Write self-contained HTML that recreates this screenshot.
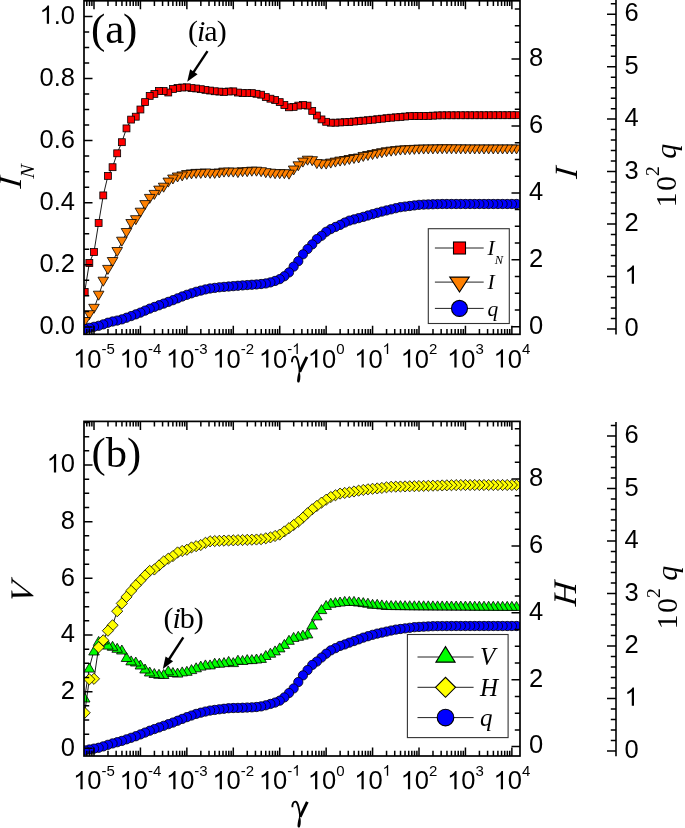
<!DOCTYPE html><html><head><meta charset="utf-8"><style>html,body{margin:0;padding:0;background:#fff;}svg{display:block;will-change:transform;}</style></head><body><svg width="685" height="828" viewBox="0 0 685 828">
<defs>
<clipPath id="ca"><rect x="84.0" y="0.8" width="436.0" height="333.5"/></clipPath>
<clipPath id="cb"><rect x="84.0" y="421.4" width="436.0" height="334.6"/></clipPath>
</defs>
<rect width="685" height="828" fill="#fff"/>
<g clip-path="url(#ca)">
<path d="M84.70,291.90 L89.34,263.00 L93.99,252.00 L98.63,223.00 L103.27,195.40 L107.92,175.90 L112.56,167.20 L117.20,153.30 L121.84,142.20 L126.49,128.40 L131.13,119.60 L135.77,116.70 L140.42,109.50 L145.06,102.10 L149.70,95.90 L154.34,93.90 L158.99,91.00 L163.63,91.00 L168.27,92.50 L172.92,89.00 L177.56,87.90 L182.20,87.50 L186.85,87.30 L191.49,88.10 L196.13,88.47 L200.77,89.17 L205.42,89.86 L210.06,90.56 L214.70,91.26 L219.35,91.60 L223.99,91.93 L228.63,91.48 L233.28,91.33 L237.92,92.55 L242.56,93.10 L247.20,93.10 L251.85,93.10 L256.49,93.80 L261.13,94.70 L265.78,97.10 L270.42,98.70 L275.06,100.00 L279.71,102.10 L284.35,105.00 L288.99,107.30 L293.63,106.90 L298.28,105.60 L302.92,105.00 L307.56,105.60 L312.21,110.90 L316.85,115.50 L321.49,119.40 L326.14,121.80 L330.78,122.70 L335.42,122.70 L340.06,122.45 L344.71,122.19 L349.35,121.94 L353.99,121.52 L358.64,121.08 L363.28,120.64 L367.92,120.20 L372.57,119.72 L377.21,119.21 L381.85,118.70 L386.49,118.19 L391.14,117.70 L395.78,117.31 L400.42,116.91 L405.07,116.52 L409.71,116.12 L414.35,116.05 L419.00,116.00 L423.64,115.95 L428.28,115.89 L432.92,115.65 L437.57,115.42 L442.21,115.30 L446.85,115.29 L451.50,115.29 L456.14,115.28 L460.78,115.27 L465.43,115.27 L470.07,115.26 L474.71,115.26 L479.35,115.25 L484.00,115.25 L488.64,115.24 L493.28,115.23 L497.93,115.23 L502.57,115.22 L507.21,115.22 L511.86,115.21 L516.50,115.20" fill="none" stroke="#000" stroke-width="0.9"/>
<g fill="#ff0000" stroke="#000" stroke-width="0.8">
<rect x="513.05" y="111.75" width="6.9" height="6.9"/>
<rect x="508.41" y="111.76" width="6.9" height="6.9"/>
<rect x="503.76" y="111.77" width="6.9" height="6.9"/>
<rect x="499.12" y="111.77" width="6.9" height="6.9"/>
<rect x="494.48" y="111.78" width="6.9" height="6.9"/>
<rect x="489.83" y="111.78" width="6.9" height="6.9"/>
<rect x="485.19" y="111.79" width="6.9" height="6.9"/>
<rect x="480.55" y="111.80" width="6.9" height="6.9"/>
<rect x="475.90" y="111.80" width="6.9" height="6.9"/>
<rect x="471.26" y="111.81" width="6.9" height="6.9"/>
<rect x="466.62" y="111.81" width="6.9" height="6.9"/>
<rect x="461.98" y="111.82" width="6.9" height="6.9"/>
<rect x="457.33" y="111.82" width="6.9" height="6.9"/>
<rect x="452.69" y="111.83" width="6.9" height="6.9"/>
<rect x="448.05" y="111.84" width="6.9" height="6.9"/>
<rect x="443.40" y="111.84" width="6.9" height="6.9"/>
<rect x="438.76" y="111.85" width="6.9" height="6.9"/>
<rect x="434.12" y="111.97" width="6.9" height="6.9"/>
<rect x="429.47" y="112.20" width="6.9" height="6.9"/>
<rect x="424.83" y="112.44" width="6.9" height="6.9"/>
<rect x="420.19" y="112.50" width="6.9" height="6.9"/>
<rect x="415.55" y="112.55" width="6.9" height="6.9"/>
<rect x="410.90" y="112.60" width="6.9" height="6.9"/>
<rect x="406.26" y="112.67" width="6.9" height="6.9"/>
<rect x="401.62" y="113.07" width="6.9" height="6.9"/>
<rect x="396.97" y="113.46" width="6.9" height="6.9"/>
<rect x="392.33" y="113.86" width="6.9" height="6.9"/>
<rect x="387.69" y="114.25" width="6.9" height="6.9"/>
<rect x="383.04" y="114.74" width="6.9" height="6.9"/>
<rect x="378.40" y="115.25" width="6.9" height="6.9"/>
<rect x="373.76" y="115.76" width="6.9" height="6.9"/>
<rect x="369.12" y="116.27" width="6.9" height="6.9"/>
<rect x="364.47" y="116.75" width="6.9" height="6.9"/>
<rect x="359.83" y="117.19" width="6.9" height="6.9"/>
<rect x="355.19" y="117.63" width="6.9" height="6.9"/>
<rect x="350.54" y="118.07" width="6.9" height="6.9"/>
<rect x="345.90" y="118.49" width="6.9" height="6.9"/>
<rect x="341.26" y="118.74" width="6.9" height="6.9"/>
<rect x="336.62" y="119.00" width="6.9" height="6.9"/>
<rect x="331.97" y="119.25" width="6.9" height="6.9"/>
<rect x="327.33" y="119.25" width="6.9" height="6.9"/>
<rect x="322.69" y="118.35" width="6.9" height="6.9"/>
<rect x="318.04" y="115.95" width="6.9" height="6.9"/>
<rect x="313.40" y="112.05" width="6.9" height="6.9"/>
<rect x="308.76" y="107.45" width="6.9" height="6.9"/>
<rect x="304.11" y="102.15" width="6.9" height="6.9"/>
<rect x="299.47" y="101.55" width="6.9" height="6.9"/>
<rect x="294.83" y="102.15" width="6.9" height="6.9"/>
<rect x="290.19" y="103.45" width="6.9" height="6.9"/>
<rect x="285.54" y="103.85" width="6.9" height="6.9"/>
<rect x="280.90" y="101.55" width="6.9" height="6.9"/>
<rect x="276.26" y="98.65" width="6.9" height="6.9"/>
<rect x="271.61" y="96.55" width="6.9" height="6.9"/>
<rect x="266.97" y="95.25" width="6.9" height="6.9"/>
<rect x="262.33" y="93.65" width="6.9" height="6.9"/>
<rect x="257.68" y="91.25" width="6.9" height="6.9"/>
<rect x="253.04" y="90.35" width="6.9" height="6.9"/>
<rect x="248.40" y="89.65" width="6.9" height="6.9"/>
<rect x="243.75" y="89.65" width="6.9" height="6.9"/>
<rect x="239.11" y="89.65" width="6.9" height="6.9"/>
<rect x="234.47" y="89.10" width="6.9" height="6.9"/>
<rect x="229.83" y="87.88" width="6.9" height="6.9"/>
<rect x="225.18" y="88.03" width="6.9" height="6.9"/>
<rect x="220.54" y="88.48" width="6.9" height="6.9"/>
<rect x="215.90" y="88.15" width="6.9" height="6.9"/>
<rect x="211.25" y="87.81" width="6.9" height="6.9"/>
<rect x="206.61" y="87.11" width="6.9" height="6.9"/>
<rect x="201.97" y="86.41" width="6.9" height="6.9"/>
<rect x="197.32" y="85.72" width="6.9" height="6.9"/>
<rect x="192.68" y="85.02" width="6.9" height="6.9"/>
<rect x="188.04" y="84.65" width="6.9" height="6.9"/>
<rect x="183.40" y="83.85" width="6.9" height="6.9"/>
<rect x="178.75" y="84.05" width="6.9" height="6.9"/>
<rect x="174.11" y="84.45" width="6.9" height="6.9"/>
<rect x="169.47" y="85.55" width="6.9" height="6.9"/>
<rect x="164.82" y="89.05" width="6.9" height="6.9"/>
<rect x="160.18" y="87.55" width="6.9" height="6.9"/>
<rect x="155.54" y="87.55" width="6.9" height="6.9"/>
<rect x="150.90" y="90.45" width="6.9" height="6.9"/>
<rect x="146.25" y="92.45" width="6.9" height="6.9"/>
<rect x="141.61" y="98.65" width="6.9" height="6.9"/>
<rect x="136.97" y="106.05" width="6.9" height="6.9"/>
<rect x="132.32" y="113.25" width="6.9" height="6.9"/>
<rect x="127.68" y="116.15" width="6.9" height="6.9"/>
<rect x="123.04" y="124.95" width="6.9" height="6.9"/>
<rect x="118.39" y="138.75" width="6.9" height="6.9"/>
<rect x="113.75" y="149.85" width="6.9" height="6.9"/>
<rect x="109.11" y="163.75" width="6.9" height="6.9"/>
<rect x="104.47" y="172.45" width="6.9" height="6.9"/>
<rect x="99.82" y="191.95" width="6.9" height="6.9"/>
<rect x="95.18" y="219.55" width="6.9" height="6.9"/>
<rect x="90.54" y="248.55" width="6.9" height="6.9"/>
<rect x="85.89" y="259.55" width="6.9" height="6.9"/>
<rect x="81.25" y="288.45" width="6.9" height="6.9"/>
</g></g>
<g clip-path="url(#ca)">
<path d="M84.70,322.00 L89.34,315.20 L93.99,308.80 L98.63,295.70 L103.27,281.70 L107.92,269.90 L112.56,262.00 L117.20,252.00 L121.84,241.70 L126.49,233.00 L131.13,224.00 L135.77,220.20 L140.42,212.70 L145.06,205.10 L149.70,198.90 L154.34,194.90 L158.99,190.60 L163.63,187.70 L168.27,182.60 L172.92,179.50 L177.56,177.50 L182.20,176.40 L186.85,175.00 L191.49,174.40 L196.13,173.90 L200.77,173.90 L205.42,173.50 L210.06,173.90 L214.70,173.90 L219.35,173.50 L223.99,172.60 L228.63,172.60 L233.28,172.60 L237.92,173.10 L242.56,172.20 L247.20,172.20 L251.85,171.70 L256.49,171.70 L261.13,172.20 L265.78,173.20 L270.42,173.70 L275.06,174.20 L279.71,174.20 L284.35,174.20 L288.99,174.70 L293.63,170.50 L298.28,166.30 L302.92,162.60 L307.56,160.70 L312.21,161.20 L316.85,164.10 L321.49,164.60 L326.14,164.60 L330.78,163.60 L335.42,162.60 L340.06,161.60 L344.71,161.00 L349.35,160.00 L353.99,159.00 L358.64,158.50 L363.28,156.94 L367.92,155.99 L372.57,155.05 L377.21,154.11 L381.85,153.18 L386.49,152.24 L391.14,151.67 L395.78,151.11 L400.42,150.58 L405.07,150.35 L409.71,150.11 L414.35,149.88 L419.00,149.65 L423.64,149.56 L428.28,149.50 L432.92,149.44 L437.57,149.39 L442.21,149.33 L446.85,149.31 L451.50,149.35 L456.14,149.39 L460.78,149.43 L465.43,149.46 L470.07,149.50 L474.71,149.50 L479.35,149.50 L484.00,149.50 L488.64,149.50 L493.28,149.50 L497.93,149.50 L502.57,149.50 L507.21,149.50 L511.86,149.50 L516.50,149.50" fill="none" stroke="#000" stroke-width="0.9"/>
<g fill="#ff8000" stroke="#000" stroke-width="0.8">
<path d="M511.20,145.00H521.80L516.50,154.00Z"/>
<path d="M506.56,145.00H517.16L511.86,154.00Z"/>
<path d="M501.91,145.00H512.51L507.21,154.00Z"/>
<path d="M497.27,145.00H507.87L502.57,154.00Z"/>
<path d="M492.63,145.00H503.23L497.93,154.00Z"/>
<path d="M487.98,145.00H498.58L493.28,154.00Z"/>
<path d="M483.34,145.00H493.94L488.64,154.00Z"/>
<path d="M478.70,145.00H489.30L484.00,154.00Z"/>
<path d="M474.05,145.00H484.65L479.35,154.00Z"/>
<path d="M469.41,145.00H480.01L474.71,154.00Z"/>
<path d="M464.77,145.00H475.37L470.07,154.00Z"/>
<path d="M460.13,144.96H470.73L465.43,153.96Z"/>
<path d="M455.48,144.93H466.08L460.78,153.93Z"/>
<path d="M450.84,144.89H461.44L456.14,153.89Z"/>
<path d="M446.20,144.85H456.80L451.50,153.85Z"/>
<path d="M441.55,144.81H452.15L446.85,153.81Z"/>
<path d="M436.91,144.83H447.51L442.21,153.83Z"/>
<path d="M432.27,144.89H442.87L437.57,153.89Z"/>
<path d="M427.62,144.94H438.22L432.92,153.94Z"/>
<path d="M422.98,145.00H433.58L428.28,154.00Z"/>
<path d="M418.34,145.06H428.94L423.64,154.06Z"/>
<path d="M413.70,145.15H424.30L419.00,154.15Z"/>
<path d="M409.05,145.38H419.65L414.35,154.38Z"/>
<path d="M404.41,145.61H415.01L409.71,154.61Z"/>
<path d="M399.77,145.85H410.37L405.07,154.85Z"/>
<path d="M395.12,146.08H405.72L400.42,155.08Z"/>
<path d="M390.48,146.61H401.08L395.78,155.61Z"/>
<path d="M385.84,147.17H396.44L391.14,156.17Z"/>
<path d="M381.19,147.74H391.79L386.49,156.74Z"/>
<path d="M376.55,148.68H387.15L381.85,157.68Z"/>
<path d="M371.91,149.61H382.51L377.21,158.61Z"/>
<path d="M367.27,150.55H377.87L372.57,159.55Z"/>
<path d="M362.62,151.49H373.22L367.92,160.49Z"/>
<path d="M357.98,152.44H368.58L363.28,161.44Z"/>
<path d="M353.34,154.00H363.94L358.64,163.00Z"/>
<path d="M348.69,154.50H359.29L353.99,163.50Z"/>
<path d="M344.05,155.50H354.65L349.35,164.50Z"/>
<path d="M339.41,156.50H350.01L344.71,165.50Z"/>
<path d="M334.76,157.10H345.37L340.06,166.10Z"/>
<path d="M330.12,158.10H340.72L335.42,167.10Z"/>
<path d="M325.48,159.10H336.08L330.78,168.10Z"/>
<path d="M320.84,160.10H331.44L326.14,169.10Z"/>
<path d="M316.19,160.10H326.79L321.49,169.10Z"/>
<path d="M311.55,159.60H322.15L316.85,168.60Z"/>
<path d="M306.91,156.70H317.51L312.21,165.70Z"/>
<path d="M302.26,156.20H312.86L307.56,165.20Z"/>
<path d="M297.62,158.10H308.22L302.92,167.10Z"/>
<path d="M292.98,161.80H303.58L298.28,170.80Z"/>
<path d="M288.33,166.00H298.94L293.63,175.00Z"/>
<path d="M283.69,170.20H294.29L288.99,179.20Z"/>
<path d="M279.05,169.70H289.65L284.35,178.70Z"/>
<path d="M274.41,169.70H285.01L279.71,178.70Z"/>
<path d="M269.76,169.70H280.36L275.06,178.70Z"/>
<path d="M265.12,169.20H275.72L270.42,178.20Z"/>
<path d="M260.48,168.70H271.08L265.78,177.70Z"/>
<path d="M255.83,167.70H266.43L261.13,176.70Z"/>
<path d="M251.19,167.20H261.79L256.49,176.20Z"/>
<path d="M246.55,167.20H257.15L251.85,176.20Z"/>
<path d="M241.90,167.70H252.50L247.20,176.70Z"/>
<path d="M237.26,167.70H247.86L242.56,176.70Z"/>
<path d="M232.62,168.60H243.22L237.92,177.60Z"/>
<path d="M227.98,168.10H238.58L233.28,177.10Z"/>
<path d="M223.33,168.10H233.93L228.63,177.10Z"/>
<path d="M218.69,168.10H229.29L223.99,177.10Z"/>
<path d="M214.05,169.00H224.65L219.35,178.00Z"/>
<path d="M209.40,169.40H220.00L214.70,178.40Z"/>
<path d="M204.76,169.40H215.36L210.06,178.40Z"/>
<path d="M200.12,169.00H210.72L205.42,178.00Z"/>
<path d="M195.47,169.40H206.07L200.77,178.40Z"/>
<path d="M190.83,169.40H201.43L196.13,178.40Z"/>
<path d="M186.19,169.90H196.79L191.49,178.90Z"/>
<path d="M181.55,170.50H192.15L186.85,179.50Z"/>
<path d="M176.90,171.90H187.50L182.20,180.90Z"/>
<path d="M172.26,173.00H182.86L177.56,182.00Z"/>
<path d="M167.62,175.00H178.22L172.92,184.00Z"/>
<path d="M162.97,178.10H173.57L168.27,187.10Z"/>
<path d="M158.33,183.20H168.93L163.63,192.20Z"/>
<path d="M153.69,186.10H164.29L158.99,195.10Z"/>
<path d="M149.04,190.40H159.65L154.34,199.40Z"/>
<path d="M144.40,194.40H155.00L149.70,203.40Z"/>
<path d="M139.76,200.60H150.36L145.06,209.60Z"/>
<path d="M135.12,208.20H145.72L140.42,217.20Z"/>
<path d="M130.47,215.70H141.07L135.77,224.70Z"/>
<path d="M125.83,219.50H136.43L131.13,228.50Z"/>
<path d="M121.19,228.50H131.79L126.49,237.50Z"/>
<path d="M116.54,237.20H127.14L121.84,246.20Z"/>
<path d="M111.90,247.50H122.50L117.20,256.50Z"/>
<path d="M107.26,257.50H117.86L112.56,266.50Z"/>
<path d="M102.62,265.40H113.22L107.92,274.40Z"/>
<path d="M97.97,277.20H108.57L103.27,286.20Z"/>
<path d="M93.33,291.20H103.93L98.63,300.20Z"/>
<path d="M88.69,304.30H99.29L93.99,313.30Z"/>
<path d="M84.04,310.70H94.64L89.34,319.70Z"/>
<path d="M79.40,317.50H90.00L84.70,326.50Z"/>
</g></g>
<g clip-path="url(#ca)">
<path d="M84.70,328.85 L89.34,327.83 L93.99,326.82 L98.63,325.80 L103.27,324.35 L107.92,322.73 L112.56,321.49 L117.20,320.56 L121.84,319.35 L126.49,317.73 L131.13,316.08 L135.77,314.36 L140.42,312.62 L145.06,310.62 L149.70,308.63 L154.34,306.94 L158.99,305.27 L163.63,303.59 L168.27,301.88 L172.92,300.18 L177.56,298.35 L182.20,296.51 L186.85,294.80 L191.49,293.29 L196.13,291.78 L200.77,290.59 L205.42,289.44 L210.06,288.49 L214.70,287.88 L219.35,287.28 L223.99,286.88 L228.63,286.51 L233.28,286.13 L237.92,285.75 L242.56,285.39 L247.20,285.06 L251.85,284.73 L256.49,284.45 L261.13,284.02 L265.78,283.44 L270.42,282.40 L275.06,280.93 L279.71,279.13 L284.35,276.26 L288.99,272.42 L293.63,266.63 L298.28,261.18 L302.92,254.33 L307.56,249.05 L312.21,244.39 L316.85,239.11 L321.49,235.80 L326.14,231.80 L330.78,229.07 L335.42,226.94 L340.06,224.93 L344.71,222.56 L349.35,220.61 L353.99,219.38 L358.64,218.16 L363.28,216.85 L367.92,215.50 L372.57,214.16 L377.21,212.81 L381.85,211.56 L386.49,210.44 L391.14,209.33 L395.78,208.21 L400.42,207.15 L405.07,206.57 L409.71,205.99 L414.35,205.41 L419.00,204.83 L423.64,204.57 L428.28,204.41 L432.92,204.25 L437.57,204.09 L442.21,204.00 L446.85,204.00 L451.50,204.00 L456.14,204.00 L460.78,204.00 L465.43,204.00 L470.07,204.00 L474.71,204.00 L479.35,204.00 L484.00,204.00 L488.64,204.00 L493.28,204.00 L497.93,204.00 L502.57,204.00 L507.21,204.00 L511.86,204.00 L516.50,204.00" fill="none" stroke="#000" stroke-width="0.9"/>
<g fill="#0000ff" stroke="#000" stroke-width="0.8">
<circle cx="516.50" cy="204.00" r="4.65"/>
<circle cx="511.86" cy="204.00" r="4.65"/>
<circle cx="507.21" cy="204.00" r="4.65"/>
<circle cx="502.57" cy="204.00" r="4.65"/>
<circle cx="497.93" cy="204.00" r="4.65"/>
<circle cx="493.28" cy="204.00" r="4.65"/>
<circle cx="488.64" cy="204.00" r="4.65"/>
<circle cx="484.00" cy="204.00" r="4.65"/>
<circle cx="479.35" cy="204.00" r="4.65"/>
<circle cx="474.71" cy="204.00" r="4.65"/>
<circle cx="470.07" cy="204.00" r="4.65"/>
<circle cx="465.43" cy="204.00" r="4.65"/>
<circle cx="460.78" cy="204.00" r="4.65"/>
<circle cx="456.14" cy="204.00" r="4.65"/>
<circle cx="451.50" cy="204.00" r="4.65"/>
<circle cx="446.85" cy="204.00" r="4.65"/>
<circle cx="442.21" cy="204.00" r="4.65"/>
<circle cx="437.57" cy="204.09" r="4.65"/>
<circle cx="432.92" cy="204.25" r="4.65"/>
<circle cx="428.28" cy="204.41" r="4.65"/>
<circle cx="423.64" cy="204.57" r="4.65"/>
<circle cx="419.00" cy="204.83" r="4.65"/>
<circle cx="414.35" cy="205.41" r="4.65"/>
<circle cx="409.71" cy="205.99" r="4.65"/>
<circle cx="405.07" cy="206.57" r="4.65"/>
<circle cx="400.42" cy="207.15" r="4.65"/>
<circle cx="395.78" cy="208.21" r="4.65"/>
<circle cx="391.14" cy="209.33" r="4.65"/>
<circle cx="386.49" cy="210.44" r="4.65"/>
<circle cx="381.85" cy="211.56" r="4.65"/>
<circle cx="377.21" cy="212.81" r="4.65"/>
<circle cx="372.57" cy="214.16" r="4.65"/>
<circle cx="367.92" cy="215.50" r="4.65"/>
<circle cx="363.28" cy="216.85" r="4.65"/>
<circle cx="358.64" cy="218.16" r="4.65"/>
<circle cx="353.99" cy="219.38" r="4.65"/>
<circle cx="349.35" cy="220.61" r="4.65"/>
<circle cx="344.71" cy="222.56" r="4.65"/>
<circle cx="340.06" cy="224.93" r="4.65"/>
<circle cx="335.42" cy="226.94" r="4.65"/>
<circle cx="330.78" cy="229.07" r="4.65"/>
<circle cx="326.14" cy="231.80" r="4.65"/>
<circle cx="321.49" cy="235.80" r="4.65"/>
<circle cx="316.85" cy="239.11" r="4.65"/>
<circle cx="312.21" cy="244.39" r="4.65"/>
<circle cx="307.56" cy="249.05" r="4.65"/>
<circle cx="302.92" cy="254.33" r="4.65"/>
<circle cx="298.28" cy="261.18" r="4.65"/>
<circle cx="293.63" cy="266.63" r="4.65"/>
<circle cx="288.99" cy="272.42" r="4.65"/>
<circle cx="284.35" cy="276.26" r="4.65"/>
<circle cx="279.71" cy="279.13" r="4.65"/>
<circle cx="275.06" cy="280.93" r="4.65"/>
<circle cx="270.42" cy="282.40" r="4.65"/>
<circle cx="265.78" cy="283.44" r="4.65"/>
<circle cx="261.13" cy="284.02" r="4.65"/>
<circle cx="256.49" cy="284.45" r="4.65"/>
<circle cx="251.85" cy="284.73" r="4.65"/>
<circle cx="247.20" cy="285.06" r="4.65"/>
<circle cx="242.56" cy="285.39" r="4.65"/>
<circle cx="237.92" cy="285.75" r="4.65"/>
<circle cx="233.28" cy="286.13" r="4.65"/>
<circle cx="228.63" cy="286.51" r="4.65"/>
<circle cx="223.99" cy="286.88" r="4.65"/>
<circle cx="219.35" cy="287.28" r="4.65"/>
<circle cx="214.70" cy="287.88" r="4.65"/>
<circle cx="210.06" cy="288.49" r="4.65"/>
<circle cx="205.42" cy="289.44" r="4.65"/>
<circle cx="200.77" cy="290.59" r="4.65"/>
<circle cx="196.13" cy="291.78" r="4.65"/>
<circle cx="191.49" cy="293.29" r="4.65"/>
<circle cx="186.85" cy="294.80" r="4.65"/>
<circle cx="182.20" cy="296.51" r="4.65"/>
<circle cx="177.56" cy="298.35" r="4.65"/>
<circle cx="172.92" cy="300.18" r="4.65"/>
<circle cx="168.27" cy="301.88" r="4.65"/>
<circle cx="163.63" cy="303.59" r="4.65"/>
<circle cx="158.99" cy="305.27" r="4.65"/>
<circle cx="154.34" cy="306.94" r="4.65"/>
<circle cx="149.70" cy="308.63" r="4.65"/>
<circle cx="145.06" cy="310.62" r="4.65"/>
<circle cx="140.42" cy="312.62" r="4.65"/>
<circle cx="135.77" cy="314.36" r="4.65"/>
<circle cx="131.13" cy="316.08" r="4.65"/>
<circle cx="126.49" cy="317.73" r="4.65"/>
<circle cx="121.84" cy="319.35" r="4.65"/>
<circle cx="117.20" cy="320.56" r="4.65"/>
<circle cx="112.56" cy="321.49" r="4.65"/>
<circle cx="107.92" cy="322.73" r="4.65"/>
<circle cx="103.27" cy="324.35" r="4.65"/>
<circle cx="98.63" cy="325.80" r="4.65"/>
<circle cx="93.99" cy="326.82" r="4.65"/>
<circle cx="89.34" cy="327.83" r="4.65"/>
<circle cx="84.70" cy="328.85" r="4.65"/>
</g></g>
<rect x="84.0" y="0.8" width="436.0" height="333.5" fill="none" stroke="#000" stroke-width="1.7"/>
<path d="M86.81,334.3v-5.2M86.81,0.8v5.2M89.50,334.3v-5.2M89.50,0.8v5.2M91.88,334.3v-5.2M91.88,0.8v5.2M94.00,334.3v-8.5M94.00,0.8v8.5M107.98,334.3v-5.2M107.98,0.8v5.2M116.15,334.3v-5.2M116.15,0.8v5.2M121.95,334.3v-5.2M121.95,0.8v5.2M126.45,334.3v-5.2M126.45,0.8v5.2M130.13,334.3v-5.2M130.13,0.8v5.2M133.24,334.3v-5.2M133.24,0.8v5.2M135.93,334.3v-5.2M135.93,0.8v5.2M138.31,334.3v-5.2M138.31,0.8v5.2M140.43,334.3v-8.5M140.43,0.8v8.5M154.41,334.3v-5.2M154.41,0.8v5.2M162.58,334.3v-5.2M162.58,0.8v5.2M168.38,334.3v-5.2M168.38,0.8v5.2M172.88,334.3v-5.2M172.88,0.8v5.2M176.56,334.3v-5.2M176.56,0.8v5.2M179.67,334.3v-5.2M179.67,0.8v5.2M182.36,334.3v-5.2M182.36,0.8v5.2M184.74,334.3v-5.2M184.74,0.8v5.2M186.86,334.3v-8.5M186.86,0.8v8.5M200.84,334.3v-5.2M200.84,0.8v5.2M209.01,334.3v-5.2M209.01,0.8v5.2M214.81,334.3v-5.2M214.81,0.8v5.2M219.31,334.3v-5.2M219.31,0.8v5.2M222.99,334.3v-5.2M222.99,0.8v5.2M226.10,334.3v-5.2M226.10,0.8v5.2M228.79,334.3v-5.2M228.79,0.8v5.2M231.17,334.3v-5.2M231.17,0.8v5.2M233.29,334.3v-8.5M233.29,0.8v8.5M247.27,334.3v-5.2M247.27,0.8v5.2M255.44,334.3v-5.2M255.44,0.8v5.2M261.24,334.3v-5.2M261.24,0.8v5.2M265.74,334.3v-5.2M265.74,0.8v5.2M269.42,334.3v-5.2M269.42,0.8v5.2M272.53,334.3v-5.2M272.53,0.8v5.2M275.22,334.3v-5.2M275.22,0.8v5.2M277.60,334.3v-5.2M277.60,0.8v5.2M279.72,334.3v-8.5M279.72,0.8v8.5M293.70,334.3v-5.2M293.70,0.8v5.2M301.87,334.3v-5.2M301.87,0.8v5.2M307.67,334.3v-5.2M307.67,0.8v5.2M312.17,334.3v-5.2M312.17,0.8v5.2M315.85,334.3v-5.2M315.85,0.8v5.2M318.96,334.3v-5.2M318.96,0.8v5.2M321.65,334.3v-5.2M321.65,0.8v5.2M324.03,334.3v-5.2M324.03,0.8v5.2M326.15,334.3v-8.5M326.15,0.8v8.5M340.13,334.3v-5.2M340.13,0.8v5.2M348.30,334.3v-5.2M348.30,0.8v5.2M354.10,334.3v-5.2M354.10,0.8v5.2M358.60,334.3v-5.2M358.60,0.8v5.2M362.28,334.3v-5.2M362.28,0.8v5.2M365.39,334.3v-5.2M365.39,0.8v5.2M368.08,334.3v-5.2M368.08,0.8v5.2M370.46,334.3v-5.2M370.46,0.8v5.2M372.58,334.3v-8.5M372.58,0.8v8.5M386.56,334.3v-5.2M386.56,0.8v5.2M394.73,334.3v-5.2M394.73,0.8v5.2M400.53,334.3v-5.2M400.53,0.8v5.2M405.03,334.3v-5.2M405.03,0.8v5.2M408.71,334.3v-5.2M408.71,0.8v5.2M411.82,334.3v-5.2M411.82,0.8v5.2M414.51,334.3v-5.2M414.51,0.8v5.2M416.89,334.3v-5.2M416.89,0.8v5.2M419.01,334.3v-8.5M419.01,0.8v8.5M432.99,334.3v-5.2M432.99,0.8v5.2M441.16,334.3v-5.2M441.16,0.8v5.2M446.96,334.3v-5.2M446.96,0.8v5.2M451.46,334.3v-5.2M451.46,0.8v5.2M455.14,334.3v-5.2M455.14,0.8v5.2M458.25,334.3v-5.2M458.25,0.8v5.2M460.94,334.3v-5.2M460.94,0.8v5.2M463.32,334.3v-5.2M463.32,0.8v5.2M465.44,334.3v-8.5M465.44,0.8v8.5M479.42,334.3v-5.2M479.42,0.8v5.2M487.59,334.3v-5.2M487.59,0.8v5.2M493.39,334.3v-5.2M493.39,0.8v5.2M497.89,334.3v-5.2M497.89,0.8v5.2M501.57,334.3v-5.2M501.57,0.8v5.2M504.68,334.3v-5.2M504.68,0.8v5.2M507.37,334.3v-5.2M507.37,0.8v5.2M509.75,334.3v-5.2M509.75,0.8v5.2M511.87,334.3v-8.5M511.87,0.8v8.5" stroke="#000" stroke-width="1.5" fill="none"/>
<text font-family="Liberation Sans, sans-serif"><tspan x="87.33" y="367.50" font-size="25.5">0</tspan><tspan x="101.51" y="354.00" font-size="15">-</tspan><tspan x="106.51" y="354.00" font-size="15">5</tspan></text><path transform="translate(73.15,367.50) scale(0.01245,-0.01245)" d="M763,0H583V1147C540,1106 483,1064 413,1023C343,982 280,951 224,930V1104C325,1151 412,1208 487,1275C562,1342 615,1407 646,1471H763Z"/>
<text font-family="Liberation Sans, sans-serif"><tspan x="133.76" y="367.50" font-size="25.5">0</tspan><tspan x="147.94" y="354.00" font-size="15">-</tspan><tspan x="152.94" y="354.00" font-size="15">4</tspan></text><path transform="translate(119.58,367.50) scale(0.01245,-0.01245)" d="M763,0H583V1147C540,1106 483,1064 413,1023C343,982 280,951 224,930V1104C325,1151 412,1208 487,1275C562,1342 615,1407 646,1471H763Z"/>
<text font-family="Liberation Sans, sans-serif"><tspan x="180.19" y="367.50" font-size="25.5">0</tspan><tspan x="194.37" y="354.00" font-size="15">-</tspan><tspan x="199.37" y="354.00" font-size="15">3</tspan></text><path transform="translate(166.01,367.50) scale(0.01245,-0.01245)" d="M763,0H583V1147C540,1106 483,1064 413,1023C343,982 280,951 224,930V1104C325,1151 412,1208 487,1275C562,1342 615,1407 646,1471H763Z"/>
<text font-family="Liberation Sans, sans-serif"><tspan x="226.62" y="367.50" font-size="25.5">0</tspan><tspan x="240.80" y="354.00" font-size="15">-</tspan><tspan x="245.80" y="354.00" font-size="15">2</tspan></text><path transform="translate(212.44,367.50) scale(0.01245,-0.01245)" d="M763,0H583V1147C540,1106 483,1064 413,1023C343,982 280,951 224,930V1104C325,1151 412,1208 487,1275C562,1342 615,1407 646,1471H763Z"/>
<text font-family="Liberation Sans, sans-serif"><tspan x="273.05" y="367.50" font-size="25.5">0</tspan><tspan x="287.23" y="354.00" font-size="15">-</tspan></text><path transform="translate(258.87,367.50) scale(0.01245,-0.01245)" d="M763,0H583V1147C540,1106 483,1064 413,1023C343,982 280,951 224,930V1104C325,1151 412,1208 487,1275C562,1342 615,1407 646,1471H763Z"/><path transform="translate(292.23,354.00) scale(0.00732,-0.00732)" d="M763,0H583V1147C540,1106 483,1064 413,1023C343,982 280,951 224,930V1104C325,1151 412,1208 487,1275C562,1342 615,1407 646,1471H763Z"/>
<text font-family="Liberation Sans, sans-serif"><tspan x="321.98" y="367.50" font-size="25.5">0</tspan><tspan x="336.16" y="354.00" font-size="15">0</tspan></text><path transform="translate(307.80,367.50) scale(0.01245,-0.01245)" d="M763,0H583V1147C540,1106 483,1064 413,1023C343,982 280,951 224,930V1104C325,1151 412,1208 487,1275C562,1342 615,1407 646,1471H763Z"/>
<text font-family="Liberation Sans, sans-serif"><tspan x="368.41" y="367.50" font-size="25.5">0</tspan></text><path transform="translate(354.23,367.50) scale(0.01245,-0.01245)" d="M763,0H583V1147C540,1106 483,1064 413,1023C343,982 280,951 224,930V1104C325,1151 412,1208 487,1275C562,1342 615,1407 646,1471H763Z"/><path transform="translate(382.59,354.00) scale(0.00732,-0.00732)" d="M763,0H583V1147C540,1106 483,1064 413,1023C343,982 280,951 224,930V1104C325,1151 412,1208 487,1275C562,1342 615,1407 646,1471H763Z"/>
<text font-family="Liberation Sans, sans-serif"><tspan x="414.84" y="367.50" font-size="25.5">0</tspan><tspan x="429.02" y="354.00" font-size="15">2</tspan></text><path transform="translate(400.66,367.50) scale(0.01245,-0.01245)" d="M763,0H583V1147C540,1106 483,1064 413,1023C343,982 280,951 224,930V1104C325,1151 412,1208 487,1275C562,1342 615,1407 646,1471H763Z"/>
<text font-family="Liberation Sans, sans-serif"><tspan x="461.27" y="367.50" font-size="25.5">0</tspan><tspan x="475.45" y="354.00" font-size="15">3</tspan></text><path transform="translate(447.09,367.50) scale(0.01245,-0.01245)" d="M763,0H583V1147C540,1106 483,1064 413,1023C343,982 280,951 224,930V1104C325,1151 412,1208 487,1275C562,1342 615,1407 646,1471H763Z"/>
<text font-family="Liberation Sans, sans-serif"><tspan x="507.70" y="367.50" font-size="25.5">0</tspan><tspan x="521.88" y="354.00" font-size="15">4</tspan></text><path transform="translate(493.52,367.50) scale(0.01245,-0.01245)" d="M763,0H583V1147C540,1106 483,1064 413,1023C343,982 280,951 224,930V1104C325,1151 412,1208 487,1275C562,1342 615,1407 646,1471H763Z"/>
<text font-family="Liberation Sans, sans-serif"><tspan x="39.55" y="334.30" font-size="25.5">0</tspan><tspan x="53.73" y="334.30" font-size="25.5">.</tspan><tspan x="60.82" y="334.30" font-size="25.5">0</tspan></text>
<text font-family="Liberation Sans, sans-serif"><tspan x="39.55" y="272.20" font-size="25.5">0</tspan><tspan x="53.73" y="272.20" font-size="25.5">.</tspan><tspan x="60.82" y="272.20" font-size="25.5">2</tspan></text>
<text font-family="Liberation Sans, sans-serif"><tspan x="39.55" y="210.10" font-size="25.5">0</tspan><tspan x="53.73" y="210.10" font-size="25.5">.</tspan><tspan x="60.82" y="210.10" font-size="25.5">4</tspan></text>
<text font-family="Liberation Sans, sans-serif"><tspan x="39.55" y="148.00" font-size="25.5">0</tspan><tspan x="53.73" y="148.00" font-size="25.5">.</tspan><tspan x="60.82" y="148.00" font-size="25.5">6</tspan></text>
<text font-family="Liberation Sans, sans-serif"><tspan x="39.55" y="85.90" font-size="25.5">0</tspan><tspan x="53.73" y="85.90" font-size="25.5">.</tspan><tspan x="60.82" y="85.90" font-size="25.5">8</tspan></text>
<text font-family="Liberation Sans, sans-serif"><tspan x="53.73" y="23.80" font-size="25.5">.</tspan><tspan x="60.82" y="23.80" font-size="25.5">0</tspan></text><path transform="translate(39.55,23.80) scale(0.01245,-0.01245)" d="M763,0H583V1147C540,1106 483,1064 413,1023C343,982 280,951 224,930V1104C325,1151 412,1208 487,1275C562,1342 615,1407 646,1471H763Z"/>
<path d="M84.0,326.90h8.5M84.0,311.38h5.2M84.0,295.85h5.2M84.0,280.32h5.2M84.0,264.80h8.5M84.0,249.27h5.2M84.0,233.75h5.2M84.0,218.22h5.2M84.0,202.70h8.5M84.0,187.17h5.2M84.0,171.65h5.2M84.0,156.12h5.2M84.0,140.60h8.5M84.0,125.07h5.2M84.0,109.55h5.2M84.0,94.02h5.2M84.0,78.50h8.5M84.0,62.97h5.2M84.0,47.45h5.2M84.0,31.92h5.2M84.0,16.40h8.5" stroke="#000" stroke-width="1.5" fill="none"/>
<text font-family="Liberation Sans, sans-serif"><tspan x="529.00" y="333.50" font-size="25.5">0</tspan></text>
<text font-family="Liberation Sans, sans-serif"><tspan x="529.00" y="266.60" font-size="25.5">2</tspan></text>
<text font-family="Liberation Sans, sans-serif"><tspan x="529.00" y="199.70" font-size="25.5">4</tspan></text>
<text font-family="Liberation Sans, sans-serif"><tspan x="529.00" y="132.80" font-size="25.5">6</tspan></text>
<text font-family="Liberation Sans, sans-serif"><tspan x="529.00" y="65.90" font-size="25.5">8</tspan></text>
<path d="M520.0,326.70h-8.5M520.0,309.97h-5.2M520.0,293.25h-5.2M520.0,276.52h-5.2M520.0,259.80h-8.5M520.0,243.07h-5.2M520.0,226.35h-5.2M520.0,209.62h-5.2M520.0,192.90h-8.5M520.0,176.17h-5.2M520.0,159.45h-5.2M520.0,142.72h-5.2M520.0,126.00h-8.5M520.0,109.27h-5.2M520.0,92.55h-5.2M520.0,75.82h-5.2M520.0,59.10h-8.5M520.0,42.37h-5.2M520.0,25.65h-5.2M520.0,8.92h-5.2" stroke="#000" stroke-width="1.5" fill="none"/>
<path d="M616.0,0V334.5" stroke="#000" stroke-width="1.6"/>
<text font-family="Liberation Sans, sans-serif"><tspan x="624.50" y="336.20" font-size="25.5">0</tspan></text>
<text font-family="Liberation Sans, sans-serif"></text><path transform="translate(624.50,283.73) scale(0.01245,-0.01245)" d="M763,0H583V1147C540,1106 483,1064 413,1023C343,982 280,951 224,930V1104C325,1151 412,1208 487,1275C562,1342 615,1407 646,1471H763Z"/>
<text font-family="Liberation Sans, sans-serif"><tspan x="624.50" y="231.26" font-size="25.5">2</tspan></text>
<text font-family="Liberation Sans, sans-serif"><tspan x="624.50" y="178.79" font-size="25.5">3</tspan></text>
<text font-family="Liberation Sans, sans-serif"><tspan x="624.50" y="126.32" font-size="25.5">4</tspan></text>
<text font-family="Liberation Sans, sans-serif"><tspan x="624.50" y="73.85" font-size="25.5">5</tspan></text>
<text font-family="Liberation Sans, sans-serif"><tspan x="624.50" y="21.38" font-size="25.5">6</tspan></text>
<path d="M616.0,329.00h-9M616.0,318.51h-5.2M616.0,308.01h-5.2M616.0,297.52h-5.2M616.0,287.02h-5.2M616.0,276.53h-9M616.0,266.04h-5.2M616.0,255.54h-5.2M616.0,245.05h-5.2M616.0,234.55h-5.2M616.0,224.06h-9M616.0,213.57h-5.2M616.0,203.07h-5.2M616.0,192.58h-5.2M616.0,182.08h-5.2M616.0,171.59h-9M616.0,161.10h-5.2M616.0,150.60h-5.2M616.0,140.11h-5.2M616.0,129.61h-5.2M616.0,119.12h-9M616.0,108.63h-5.2M616.0,98.13h-5.2M616.0,87.64h-5.2M616.0,77.14h-5.2M616.0,66.65h-9M616.0,56.16h-5.2M616.0,45.66h-5.2M616.0,35.17h-5.2M616.0,24.67h-5.2M616.0,14.18h-9M616.0,3.69h-5.2" stroke="#000" stroke-width="1.5" fill="none"/>
<g clip-path="url(#cb)">
<path d="M84.70,697.50 L89.34,667.60 L93.99,650.50 L98.63,640.90 L103.27,639.50 L107.92,644.60 L112.56,645.80 L117.20,647.80 L121.84,649.50 L126.49,657.00 L131.13,660.40 L135.77,661.50 L140.42,664.50 L145.06,668.50 L149.70,671.50 L154.34,673.00 L158.99,673.80 L163.63,674.00 L168.27,670.40 L172.92,672.00 L177.56,672.60 L182.20,671.40 L186.85,670.80 L191.49,669.10 L196.13,667.30 L200.77,665.60 L205.42,664.40 L210.06,664.40 L214.70,662.70 L219.35,662.70 L223.99,662.10 L228.63,660.90 L233.28,662.10 L237.92,659.70 L242.56,660.00 L247.20,659.10 L251.85,659.10 L256.49,658.50 L261.13,657.90 L265.78,655.00 L270.42,652.70 L275.06,650.40 L279.71,647.40 L284.35,643.90 L288.99,639.80 L293.63,636.90 L298.28,635.80 L302.92,634.60 L307.56,633.40 L312.21,624.50 L316.85,615.40 L321.49,609.10 L326.14,605.00 L330.78,602.70 L335.42,602.10 L340.06,601.50 L344.71,600.90 L349.35,600.90 L353.99,600.90 L358.64,601.50 L363.28,602.10 L367.92,602.70 L372.57,603.80 L377.21,603.80 L381.85,604.40 L386.49,605.00 L391.14,605.04 L395.78,605.08 L400.42,605.12 L405.07,605.17 L409.71,605.21 L414.35,605.25 L419.00,605.29 L423.64,605.32 L428.28,605.35 L432.92,605.38 L437.57,605.41 L442.21,605.43 L446.85,605.46 L451.50,605.49 L456.14,605.52 L460.78,605.54 L465.43,605.57 L470.07,605.60 L474.71,605.63 L479.35,605.66 L484.00,605.68 L488.64,605.71 L493.28,605.74 L497.93,605.77 L502.57,605.80 L507.21,605.82 L511.86,605.85 L516.50,605.88" fill="none" stroke="#000" stroke-width="0.9"/>
<g fill="#00ff00" stroke="#000" stroke-width="0.8">
<path d="M511.20,610.38H521.80L516.50,601.38Z"/>
<path d="M506.56,610.35H517.16L511.86,601.35Z"/>
<path d="M501.91,610.32H512.51L507.21,601.32Z"/>
<path d="M497.27,610.30H507.87L502.57,601.30Z"/>
<path d="M492.63,610.27H503.23L497.93,601.27Z"/>
<path d="M487.98,610.24H498.58L493.28,601.24Z"/>
<path d="M483.34,610.21H493.94L488.64,601.21Z"/>
<path d="M478.70,610.18H489.30L484.00,601.18Z"/>
<path d="M474.05,610.16H484.65L479.35,601.16Z"/>
<path d="M469.41,610.13H480.01L474.71,601.13Z"/>
<path d="M464.77,610.10H475.37L470.07,601.10Z"/>
<path d="M460.13,610.07H470.73L465.43,601.07Z"/>
<path d="M455.48,610.04H466.08L460.78,601.04Z"/>
<path d="M450.84,610.02H461.44L456.14,601.02Z"/>
<path d="M446.20,609.99H456.80L451.50,600.99Z"/>
<path d="M441.55,609.96H452.15L446.85,600.96Z"/>
<path d="M436.91,609.93H447.51L442.21,600.93Z"/>
<path d="M432.27,609.91H442.87L437.57,600.91Z"/>
<path d="M427.62,609.88H438.22L432.92,600.88Z"/>
<path d="M422.98,609.85H433.58L428.28,600.85Z"/>
<path d="M418.34,609.82H428.94L423.64,600.82Z"/>
<path d="M413.70,609.79H424.30L419.00,600.79Z"/>
<path d="M409.05,609.75H419.65L414.35,600.75Z"/>
<path d="M404.41,609.71H415.01L409.71,600.71Z"/>
<path d="M399.77,609.67H410.37L405.07,600.67Z"/>
<path d="M395.12,609.62H405.72L400.42,600.62Z"/>
<path d="M390.48,609.58H401.08L395.78,600.58Z"/>
<path d="M385.84,609.54H396.44L391.14,600.54Z"/>
<path d="M381.19,609.50H391.79L386.49,600.50Z"/>
<path d="M376.55,608.90H387.15L381.85,599.90Z"/>
<path d="M371.91,608.30H382.51L377.21,599.30Z"/>
<path d="M367.27,608.30H377.87L372.57,599.30Z"/>
<path d="M362.62,607.20H373.22L367.92,598.20Z"/>
<path d="M357.98,606.60H368.58L363.28,597.60Z"/>
<path d="M353.34,606.00H363.94L358.64,597.00Z"/>
<path d="M348.69,605.40H359.29L353.99,596.40Z"/>
<path d="M344.05,605.40H354.65L349.35,596.40Z"/>
<path d="M339.41,605.40H350.01L344.71,596.40Z"/>
<path d="M334.76,606.00H345.37L340.06,597.00Z"/>
<path d="M330.12,606.60H340.72L335.42,597.60Z"/>
<path d="M325.48,607.20H336.08L330.78,598.20Z"/>
<path d="M320.84,609.50H331.44L326.14,600.50Z"/>
<path d="M316.19,613.60H326.79L321.49,604.60Z"/>
<path d="M311.55,619.90H322.15L316.85,610.90Z"/>
<path d="M306.91,629.00H317.51L312.21,620.00Z"/>
<path d="M302.26,637.90H312.86L307.56,628.90Z"/>
<path d="M297.62,639.10H308.22L302.92,630.10Z"/>
<path d="M292.98,640.30H303.58L298.28,631.30Z"/>
<path d="M288.33,641.40H298.94L293.63,632.40Z"/>
<path d="M283.69,644.30H294.29L288.99,635.30Z"/>
<path d="M279.05,648.40H289.65L284.35,639.40Z"/>
<path d="M274.41,651.90H285.01L279.71,642.90Z"/>
<path d="M269.76,654.90H280.36L275.06,645.90Z"/>
<path d="M265.12,657.20H275.72L270.42,648.20Z"/>
<path d="M260.48,659.50H271.08L265.78,650.50Z"/>
<path d="M255.83,662.40H266.43L261.13,653.40Z"/>
<path d="M251.19,663.00H261.79L256.49,654.00Z"/>
<path d="M246.55,663.60H257.15L251.85,654.60Z"/>
<path d="M241.90,663.60H252.50L247.20,654.60Z"/>
<path d="M237.26,664.50H247.86L242.56,655.50Z"/>
<path d="M232.62,664.20H243.22L237.92,655.20Z"/>
<path d="M227.98,666.60H238.58L233.28,657.60Z"/>
<path d="M223.33,665.40H233.93L228.63,656.40Z"/>
<path d="M218.69,666.60H229.29L223.99,657.60Z"/>
<path d="M214.05,667.20H224.65L219.35,658.20Z"/>
<path d="M209.40,667.20H220.00L214.70,658.20Z"/>
<path d="M204.76,668.90H215.36L210.06,659.90Z"/>
<path d="M200.12,668.90H210.72L205.42,659.90Z"/>
<path d="M195.47,670.10H206.07L200.77,661.10Z"/>
<path d="M190.83,671.80H201.43L196.13,662.80Z"/>
<path d="M186.19,673.60H196.79L191.49,664.60Z"/>
<path d="M181.55,675.30H192.15L186.85,666.30Z"/>
<path d="M176.90,675.90H187.50L182.20,666.90Z"/>
<path d="M172.26,677.10H182.86L177.56,668.10Z"/>
<path d="M167.62,676.50H178.22L172.92,667.50Z"/>
<path d="M162.97,674.90H173.57L168.27,665.90Z"/>
<path d="M158.33,678.50H168.93L163.63,669.50Z"/>
<path d="M153.69,678.30H164.29L158.99,669.30Z"/>
<path d="M149.04,677.50H159.65L154.34,668.50Z"/>
<path d="M144.40,676.00H155.00L149.70,667.00Z"/>
<path d="M139.76,673.00H150.36L145.06,664.00Z"/>
<path d="M135.12,669.00H145.72L140.42,660.00Z"/>
<path d="M130.47,666.00H141.07L135.77,657.00Z"/>
<path d="M125.83,664.90H136.43L131.13,655.90Z"/>
<path d="M121.19,661.50H131.79L126.49,652.50Z"/>
<path d="M116.54,654.00H127.14L121.84,645.00Z"/>
<path d="M111.90,652.30H122.50L117.20,643.30Z"/>
<path d="M107.26,650.30H117.86L112.56,641.30Z"/>
<path d="M102.62,649.10H113.22L107.92,640.10Z"/>
<path d="M97.97,644.00H108.57L103.27,635.00Z"/>
<path d="M93.33,645.40H103.93L98.63,636.40Z"/>
<path d="M88.69,655.00H99.29L93.99,646.00Z"/>
<path d="M84.04,672.10H94.64L89.34,663.10Z"/>
<path d="M79.40,702.00H90.00L84.70,693.00Z"/>
</g></g>
<g clip-path="url(#cb)">
<path d="M84.70,712.80 L89.34,679.30 L93.99,678.80 L98.63,647.30 L103.27,640.30 L107.92,630.70 L112.56,625.30 L117.20,611.20 L121.84,603.40 L126.49,596.90 L131.13,590.90 L135.77,585.30 L140.42,580.50 L145.06,575.50 L149.70,570.90 L154.34,569.45 L158.99,565.48 L163.63,561.43 L168.27,558.71 L172.92,556.06 L177.56,552.44 L182.20,550.97 L186.85,549.73 L191.49,547.41 L196.13,546.15 L200.77,545.01 L205.42,542.79 L210.06,541.31 L214.70,541.07 L219.35,540.83 L223.99,540.66 L228.63,540.50 L233.28,540.34 L237.92,540.17 L242.56,540.01 L247.20,539.85 L251.85,539.69 L256.49,539.52 L261.13,539.18 L265.78,538.30 L270.42,537.37 L275.06,535.98 L279.71,534.59 L284.35,531.46 L288.99,528.21 L293.63,524.96 L298.28,521.71 L302.92,517.70 L307.56,513.24 L312.21,509.29 L316.85,505.90 L321.49,502.66 L326.14,499.73 L330.78,497.01 L335.42,495.29 L340.06,493.59 L344.71,492.94 L349.35,492.29 L353.99,491.48 L358.64,490.65 L363.28,489.94 L367.92,489.29 L372.57,488.79 L377.21,488.42 L381.85,487.94 L386.49,487.29 L391.14,486.77 L395.78,486.65 L400.42,486.52 L405.07,486.40 L409.71,486.27 L414.35,486.15 L419.00,486.03 L423.64,485.91 L428.28,485.79 L432.92,485.68 L437.57,485.56 L442.21,485.44 L446.85,485.33 L451.50,485.21 L456.14,485.10 L460.78,485.00 L465.43,485.00 L470.07,485.00 L474.71,485.00 L479.35,485.00 L484.00,485.00 L488.64,485.00 L493.28,485.00 L497.93,485.00 L502.57,485.00 L507.21,485.00 L511.86,485.00 L516.50,485.00" fill="none" stroke="#000" stroke-width="0.9"/>
<g fill="#ffff00" stroke="#000" stroke-width="0.8">
<path d="M510.90,485.00L516.50,479.40L522.10,485.00L516.50,490.60Z"/>
<path d="M506.26,485.00L511.86,479.40L517.46,485.00L511.86,490.60Z"/>
<path d="M501.61,485.00L507.21,479.40L512.81,485.00L507.21,490.60Z"/>
<path d="M496.97,485.00L502.57,479.40L508.17,485.00L502.57,490.60Z"/>
<path d="M492.33,485.00L497.93,479.40L503.53,485.00L497.93,490.60Z"/>
<path d="M487.68,485.00L493.28,479.40L498.88,485.00L493.28,490.60Z"/>
<path d="M483.04,485.00L488.64,479.40L494.24,485.00L488.64,490.60Z"/>
<path d="M478.40,485.00L484.00,479.40L489.60,485.00L484.00,490.60Z"/>
<path d="M473.75,485.00L479.35,479.40L484.95,485.00L479.35,490.60Z"/>
<path d="M469.11,485.00L474.71,479.40L480.31,485.00L474.71,490.60Z"/>
<path d="M464.47,485.00L470.07,479.40L475.67,485.00L470.07,490.60Z"/>
<path d="M459.83,485.00L465.43,479.40L471.03,485.00L465.43,490.60Z"/>
<path d="M455.18,485.00L460.78,479.40L466.38,485.00L460.78,490.60Z"/>
<path d="M450.54,485.10L456.14,479.50L461.74,485.10L456.14,490.70Z"/>
<path d="M445.90,485.21L451.50,479.61L457.10,485.21L451.50,490.81Z"/>
<path d="M441.25,485.33L446.85,479.73L452.45,485.33L446.85,490.93Z"/>
<path d="M436.61,485.44L442.21,479.84L447.81,485.44L442.21,491.04Z"/>
<path d="M431.97,485.56L437.57,479.96L443.17,485.56L437.57,491.16Z"/>
<path d="M427.32,485.68L432.92,480.08L438.52,485.68L432.92,491.28Z"/>
<path d="M422.68,485.79L428.28,480.19L433.88,485.79L428.28,491.39Z"/>
<path d="M418.04,485.91L423.64,480.31L429.24,485.91L423.64,491.51Z"/>
<path d="M413.40,486.03L419.00,480.43L424.60,486.03L419.00,491.63Z"/>
<path d="M408.75,486.15L414.35,480.55L419.95,486.15L414.35,491.75Z"/>
<path d="M404.11,486.27L409.71,480.67L415.31,486.27L409.71,491.87Z"/>
<path d="M399.47,486.40L405.07,480.80L410.67,486.40L405.07,492.00Z"/>
<path d="M394.82,486.52L400.42,480.92L406.02,486.52L400.42,492.12Z"/>
<path d="M390.18,486.65L395.78,481.05L401.38,486.65L395.78,492.25Z"/>
<path d="M385.54,486.77L391.14,481.17L396.74,486.77L391.14,492.37Z"/>
<path d="M380.89,487.29L386.49,481.69L392.09,487.29L386.49,492.89Z"/>
<path d="M376.25,487.94L381.85,482.34L387.45,487.94L381.85,493.54Z"/>
<path d="M371.61,488.42L377.21,482.82L382.81,488.42L377.21,494.02Z"/>
<path d="M366.97,488.79L372.57,483.19L378.17,488.79L372.57,494.39Z"/>
<path d="M362.32,489.29L367.92,483.69L373.52,489.29L367.92,494.89Z"/>
<path d="M357.68,489.94L363.28,484.34L368.88,489.94L363.28,495.54Z"/>
<path d="M353.04,490.65L358.64,485.05L364.24,490.65L358.64,496.25Z"/>
<path d="M348.39,491.48L353.99,485.88L359.59,491.48L353.99,497.08Z"/>
<path d="M343.75,492.29L349.35,486.69L354.95,492.29L349.35,497.89Z"/>
<path d="M339.11,492.94L344.71,487.34L350.31,492.94L344.71,498.54Z"/>
<path d="M334.46,493.59L340.06,487.99L345.67,493.59L340.06,499.19Z"/>
<path d="M329.82,495.29L335.42,489.69L341.02,495.29L335.42,500.89Z"/>
<path d="M325.18,497.01L330.78,491.41L336.38,497.01L330.78,502.61Z"/>
<path d="M320.54,499.73L326.14,494.13L331.74,499.73L326.14,505.33Z"/>
<path d="M315.89,502.66L321.49,497.06L327.09,502.66L321.49,508.26Z"/>
<path d="M311.25,505.90L316.85,500.30L322.45,505.90L316.85,511.50Z"/>
<path d="M306.61,509.29L312.21,503.69L317.81,509.29L312.21,514.89Z"/>
<path d="M301.96,513.24L307.56,507.64L313.16,513.24L307.56,518.84Z"/>
<path d="M297.32,517.70L302.92,512.10L308.52,517.70L302.92,523.30Z"/>
<path d="M292.68,521.71L298.28,516.11L303.88,521.71L298.28,527.31Z"/>
<path d="M288.03,524.96L293.63,519.36L299.24,524.96L293.63,530.56Z"/>
<path d="M283.39,528.21L288.99,522.61L294.59,528.21L288.99,533.81Z"/>
<path d="M278.75,531.46L284.35,525.86L289.95,531.46L284.35,537.06Z"/>
<path d="M274.11,534.59L279.71,528.99L285.31,534.59L279.71,540.19Z"/>
<path d="M269.46,535.98L275.06,530.38L280.66,535.98L275.06,541.58Z"/>
<path d="M264.82,537.37L270.42,531.77L276.02,537.37L270.42,542.97Z"/>
<path d="M260.18,538.30L265.78,532.70L271.38,538.30L265.78,543.90Z"/>
<path d="M255.53,539.18L261.13,533.58L266.73,539.18L261.13,544.78Z"/>
<path d="M250.89,539.52L256.49,533.92L262.09,539.52L256.49,545.12Z"/>
<path d="M246.25,539.69L251.85,534.09L257.45,539.69L251.85,545.29Z"/>
<path d="M241.60,539.85L247.20,534.25L252.80,539.85L247.20,545.45Z"/>
<path d="M236.96,540.01L242.56,534.41L248.16,540.01L242.56,545.61Z"/>
<path d="M232.32,540.17L237.92,534.57L243.52,540.17L237.92,545.77Z"/>
<path d="M227.68,540.34L233.28,534.74L238.88,540.34L233.28,545.94Z"/>
<path d="M223.03,540.50L228.63,534.90L234.23,540.50L228.63,546.10Z"/>
<path d="M218.39,540.66L223.99,535.06L229.59,540.66L223.99,546.26Z"/>
<path d="M213.75,540.83L219.35,535.23L224.95,540.83L219.35,546.43Z"/>
<path d="M209.10,541.07L214.70,535.47L220.30,541.07L214.70,546.67Z"/>
<path d="M204.46,541.31L210.06,535.71L215.66,541.31L210.06,546.91Z"/>
<path d="M199.82,542.79L205.42,537.19L211.02,542.79L205.42,548.39Z"/>
<path d="M195.17,545.01L200.77,539.41L206.37,545.01L200.77,550.61Z"/>
<path d="M190.53,546.15L196.13,540.55L201.73,546.15L196.13,551.75Z"/>
<path d="M185.89,547.41L191.49,541.81L197.09,547.41L191.49,553.01Z"/>
<path d="M181.25,549.73L186.85,544.13L192.45,549.73L186.85,555.33Z"/>
<path d="M176.60,550.97L182.20,545.37L187.80,550.97L182.20,556.57Z"/>
<path d="M171.96,552.44L177.56,546.84L183.16,552.44L177.56,558.04Z"/>
<path d="M167.32,556.06L172.92,550.46L178.52,556.06L172.92,561.66Z"/>
<path d="M162.67,558.71L168.27,553.11L173.87,558.71L168.27,564.31Z"/>
<path d="M158.03,561.43L163.63,555.83L169.23,561.43L163.63,567.03Z"/>
<path d="M153.39,565.48L158.99,559.88L164.59,565.48L158.99,571.08Z"/>
<path d="M148.75,569.45L154.34,563.85L159.94,569.45L154.34,575.05Z"/>
<path d="M144.10,570.90L149.70,565.30L155.30,570.90L149.70,576.50Z"/>
<path d="M139.46,575.50L145.06,569.90L150.66,575.50L145.06,581.10Z"/>
<path d="M134.82,580.50L140.42,574.90L146.02,580.50L140.42,586.10Z"/>
<path d="M130.17,585.30L135.77,579.70L141.37,585.30L135.77,590.90Z"/>
<path d="M125.53,590.90L131.13,585.30L136.73,590.90L131.13,596.50Z"/>
<path d="M120.89,596.90L126.49,591.30L132.09,596.90L126.49,602.50Z"/>
<path d="M116.24,603.40L121.84,597.80L127.44,603.40L121.84,609.00Z"/>
<path d="M111.60,611.20L117.20,605.60L122.80,611.20L117.20,616.80Z"/>
<path d="M106.96,625.30L112.56,619.70L118.16,625.30L112.56,630.90Z"/>
<path d="M102.32,630.70L107.92,625.10L113.52,630.70L107.92,636.30Z"/>
<path d="M97.67,640.30L103.27,634.70L108.87,640.30L103.27,645.90Z"/>
<path d="M93.03,647.30L98.63,641.70L104.23,647.30L98.63,652.90Z"/>
<path d="M88.39,678.80L93.99,673.20L99.59,678.80L93.99,684.40Z"/>
<path d="M83.74,679.30L89.34,673.70L94.94,679.30L89.34,684.90Z"/>
<path d="M79.10,712.80L84.70,707.20L90.30,712.80L84.70,718.40Z"/>
</g></g>
<g clip-path="url(#cb)">
<path d="M84.70,750.37 L89.34,749.50 L93.99,748.63 L98.63,747.76 L103.27,746.39 L107.92,744.81 L112.56,743.42 L117.20,742.22 L121.84,740.89 L126.49,739.34 L131.13,737.79 L135.77,736.24 L140.42,734.43 L145.06,732.58 L149.70,730.72 L154.34,729.08 L158.99,727.45 L163.63,725.82 L168.27,724.20 L172.92,722.57 L177.56,720.75 L182.20,718.91 L186.85,717.15 L191.49,715.53 L196.13,713.90 L200.77,712.69 L205.42,711.54 L210.06,710.57 L214.70,709.93 L219.35,709.29 L223.99,708.76 L228.63,708.25 L233.28,708.02 L237.92,707.90 L242.56,707.76 L247.20,707.55 L251.85,707.34 L256.49,707.00 L261.13,706.38 L265.78,705.28 L270.42,703.94 L275.06,702.58 L279.71,700.65 L284.35,697.40 L288.99,693.05 L293.63,688.45 L298.28,682.08 L302.92,675.38 L307.56,670.09 L312.21,664.93 L316.85,661.56 L321.49,657.55 L326.14,653.73 L330.78,650.35 L335.42,648.17 L340.06,645.92 L344.71,644.45 L349.35,642.65 L353.99,641.05 L358.64,639.37 L363.28,637.63 L367.92,636.23 L372.57,634.83 L377.21,633.61 L381.85,632.59 L386.49,631.57 L391.14,630.55 L395.78,629.60 L400.42,628.99 L405.07,628.39 L409.71,627.79 L414.35,627.18 L419.00,626.90 L423.64,626.67 L428.28,626.44 L432.92,626.20 L437.57,626.09 L442.21,626.06 L446.85,626.04 L451.50,626.02 L456.14,626.00 L460.78,626.00 L465.43,626.00 L470.07,626.00 L474.71,626.00 L479.35,626.00 L484.00,626.00 L488.64,626.00 L493.28,626.00 L497.93,626.00 L502.57,626.00 L507.21,626.00 L511.86,626.00 L516.50,626.00" fill="none" stroke="#000" stroke-width="0.9"/>
<g fill="#0000ff" stroke="#000" stroke-width="0.8">
<circle cx="516.50" cy="626.00" r="4.65"/>
<circle cx="511.86" cy="626.00" r="4.65"/>
<circle cx="507.21" cy="626.00" r="4.65"/>
<circle cx="502.57" cy="626.00" r="4.65"/>
<circle cx="497.93" cy="626.00" r="4.65"/>
<circle cx="493.28" cy="626.00" r="4.65"/>
<circle cx="488.64" cy="626.00" r="4.65"/>
<circle cx="484.00" cy="626.00" r="4.65"/>
<circle cx="479.35" cy="626.00" r="4.65"/>
<circle cx="474.71" cy="626.00" r="4.65"/>
<circle cx="470.07" cy="626.00" r="4.65"/>
<circle cx="465.43" cy="626.00" r="4.65"/>
<circle cx="460.78" cy="626.00" r="4.65"/>
<circle cx="456.14" cy="626.00" r="4.65"/>
<circle cx="451.50" cy="626.02" r="4.65"/>
<circle cx="446.85" cy="626.04" r="4.65"/>
<circle cx="442.21" cy="626.06" r="4.65"/>
<circle cx="437.57" cy="626.09" r="4.65"/>
<circle cx="432.92" cy="626.20" r="4.65"/>
<circle cx="428.28" cy="626.44" r="4.65"/>
<circle cx="423.64" cy="626.67" r="4.65"/>
<circle cx="419.00" cy="626.90" r="4.65"/>
<circle cx="414.35" cy="627.18" r="4.65"/>
<circle cx="409.71" cy="627.79" r="4.65"/>
<circle cx="405.07" cy="628.39" r="4.65"/>
<circle cx="400.42" cy="628.99" r="4.65"/>
<circle cx="395.78" cy="629.60" r="4.65"/>
<circle cx="391.14" cy="630.55" r="4.65"/>
<circle cx="386.49" cy="631.57" r="4.65"/>
<circle cx="381.85" cy="632.59" r="4.65"/>
<circle cx="377.21" cy="633.61" r="4.65"/>
<circle cx="372.57" cy="634.83" r="4.65"/>
<circle cx="367.92" cy="636.23" r="4.65"/>
<circle cx="363.28" cy="637.63" r="4.65"/>
<circle cx="358.64" cy="639.37" r="4.65"/>
<circle cx="353.99" cy="641.05" r="4.65"/>
<circle cx="349.35" cy="642.65" r="4.65"/>
<circle cx="344.71" cy="644.45" r="4.65"/>
<circle cx="340.06" cy="645.92" r="4.65"/>
<circle cx="335.42" cy="648.17" r="4.65"/>
<circle cx="330.78" cy="650.35" r="4.65"/>
<circle cx="326.14" cy="653.73" r="4.65"/>
<circle cx="321.49" cy="657.55" r="4.65"/>
<circle cx="316.85" cy="661.56" r="4.65"/>
<circle cx="312.21" cy="664.93" r="4.65"/>
<circle cx="307.56" cy="670.09" r="4.65"/>
<circle cx="302.92" cy="675.38" r="4.65"/>
<circle cx="298.28" cy="682.08" r="4.65"/>
<circle cx="293.63" cy="688.45" r="4.65"/>
<circle cx="288.99" cy="693.05" r="4.65"/>
<circle cx="284.35" cy="697.40" r="4.65"/>
<circle cx="279.71" cy="700.65" r="4.65"/>
<circle cx="275.06" cy="702.58" r="4.65"/>
<circle cx="270.42" cy="703.94" r="4.65"/>
<circle cx="265.78" cy="705.28" r="4.65"/>
<circle cx="261.13" cy="706.38" r="4.65"/>
<circle cx="256.49" cy="707.00" r="4.65"/>
<circle cx="251.85" cy="707.34" r="4.65"/>
<circle cx="247.20" cy="707.55" r="4.65"/>
<circle cx="242.56" cy="707.76" r="4.65"/>
<circle cx="237.92" cy="707.90" r="4.65"/>
<circle cx="233.28" cy="708.02" r="4.65"/>
<circle cx="228.63" cy="708.25" r="4.65"/>
<circle cx="223.99" cy="708.76" r="4.65"/>
<circle cx="219.35" cy="709.29" r="4.65"/>
<circle cx="214.70" cy="709.93" r="4.65"/>
<circle cx="210.06" cy="710.57" r="4.65"/>
<circle cx="205.42" cy="711.54" r="4.65"/>
<circle cx="200.77" cy="712.69" r="4.65"/>
<circle cx="196.13" cy="713.90" r="4.65"/>
<circle cx="191.49" cy="715.53" r="4.65"/>
<circle cx="186.85" cy="717.15" r="4.65"/>
<circle cx="182.20" cy="718.91" r="4.65"/>
<circle cx="177.56" cy="720.75" r="4.65"/>
<circle cx="172.92" cy="722.57" r="4.65"/>
<circle cx="168.27" cy="724.20" r="4.65"/>
<circle cx="163.63" cy="725.82" r="4.65"/>
<circle cx="158.99" cy="727.45" r="4.65"/>
<circle cx="154.34" cy="729.08" r="4.65"/>
<circle cx="149.70" cy="730.72" r="4.65"/>
<circle cx="145.06" cy="732.58" r="4.65"/>
<circle cx="140.42" cy="734.43" r="4.65"/>
<circle cx="135.77" cy="736.24" r="4.65"/>
<circle cx="131.13" cy="737.79" r="4.65"/>
<circle cx="126.49" cy="739.34" r="4.65"/>
<circle cx="121.84" cy="740.89" r="4.65"/>
<circle cx="117.20" cy="742.22" r="4.65"/>
<circle cx="112.56" cy="743.42" r="4.65"/>
<circle cx="107.92" cy="744.81" r="4.65"/>
<circle cx="103.27" cy="746.39" r="4.65"/>
<circle cx="98.63" cy="747.76" r="4.65"/>
<circle cx="93.99" cy="748.63" r="4.65"/>
<circle cx="89.34" cy="749.50" r="4.65"/>
<circle cx="84.70" cy="750.37" r="4.65"/>
</g></g>
<rect x="84.0" y="421.4" width="436.0" height="334.6" fill="none" stroke="#000" stroke-width="1.7"/>
<path d="M86.81,756.0v-5.2M86.81,421.4v5.2M89.50,756.0v-5.2M89.50,421.4v5.2M91.88,756.0v-5.2M91.88,421.4v5.2M94.00,756.0v-8.5M94.00,421.4v8.5M107.98,756.0v-5.2M107.98,421.4v5.2M116.15,756.0v-5.2M116.15,421.4v5.2M121.95,756.0v-5.2M121.95,421.4v5.2M126.45,756.0v-5.2M126.45,421.4v5.2M130.13,756.0v-5.2M130.13,421.4v5.2M133.24,756.0v-5.2M133.24,421.4v5.2M135.93,756.0v-5.2M135.93,421.4v5.2M138.31,756.0v-5.2M138.31,421.4v5.2M140.43,756.0v-8.5M140.43,421.4v8.5M154.41,756.0v-5.2M154.41,421.4v5.2M162.58,756.0v-5.2M162.58,421.4v5.2M168.38,756.0v-5.2M168.38,421.4v5.2M172.88,756.0v-5.2M172.88,421.4v5.2M176.56,756.0v-5.2M176.56,421.4v5.2M179.67,756.0v-5.2M179.67,421.4v5.2M182.36,756.0v-5.2M182.36,421.4v5.2M184.74,756.0v-5.2M184.74,421.4v5.2M186.86,756.0v-8.5M186.86,421.4v8.5M200.84,756.0v-5.2M200.84,421.4v5.2M209.01,756.0v-5.2M209.01,421.4v5.2M214.81,756.0v-5.2M214.81,421.4v5.2M219.31,756.0v-5.2M219.31,421.4v5.2M222.99,756.0v-5.2M222.99,421.4v5.2M226.10,756.0v-5.2M226.10,421.4v5.2M228.79,756.0v-5.2M228.79,421.4v5.2M231.17,756.0v-5.2M231.17,421.4v5.2M233.29,756.0v-8.5M233.29,421.4v8.5M247.27,756.0v-5.2M247.27,421.4v5.2M255.44,756.0v-5.2M255.44,421.4v5.2M261.24,756.0v-5.2M261.24,421.4v5.2M265.74,756.0v-5.2M265.74,421.4v5.2M269.42,756.0v-5.2M269.42,421.4v5.2M272.53,756.0v-5.2M272.53,421.4v5.2M275.22,756.0v-5.2M275.22,421.4v5.2M277.60,756.0v-5.2M277.60,421.4v5.2M279.72,756.0v-8.5M279.72,421.4v8.5M293.70,756.0v-5.2M293.70,421.4v5.2M301.87,756.0v-5.2M301.87,421.4v5.2M307.67,756.0v-5.2M307.67,421.4v5.2M312.17,756.0v-5.2M312.17,421.4v5.2M315.85,756.0v-5.2M315.85,421.4v5.2M318.96,756.0v-5.2M318.96,421.4v5.2M321.65,756.0v-5.2M321.65,421.4v5.2M324.03,756.0v-5.2M324.03,421.4v5.2M326.15,756.0v-8.5M326.15,421.4v8.5M340.13,756.0v-5.2M340.13,421.4v5.2M348.30,756.0v-5.2M348.30,421.4v5.2M354.10,756.0v-5.2M354.10,421.4v5.2M358.60,756.0v-5.2M358.60,421.4v5.2M362.28,756.0v-5.2M362.28,421.4v5.2M365.39,756.0v-5.2M365.39,421.4v5.2M368.08,756.0v-5.2M368.08,421.4v5.2M370.46,756.0v-5.2M370.46,421.4v5.2M372.58,756.0v-8.5M372.58,421.4v8.5M386.56,756.0v-5.2M386.56,421.4v5.2M394.73,756.0v-5.2M394.73,421.4v5.2M400.53,756.0v-5.2M400.53,421.4v5.2M405.03,756.0v-5.2M405.03,421.4v5.2M408.71,756.0v-5.2M408.71,421.4v5.2M411.82,756.0v-5.2M411.82,421.4v5.2M414.51,756.0v-5.2M414.51,421.4v5.2M416.89,756.0v-5.2M416.89,421.4v5.2M419.01,756.0v-8.5M419.01,421.4v8.5M432.99,756.0v-5.2M432.99,421.4v5.2M441.16,756.0v-5.2M441.16,421.4v5.2M446.96,756.0v-5.2M446.96,421.4v5.2M451.46,756.0v-5.2M451.46,421.4v5.2M455.14,756.0v-5.2M455.14,421.4v5.2M458.25,756.0v-5.2M458.25,421.4v5.2M460.94,756.0v-5.2M460.94,421.4v5.2M463.32,756.0v-5.2M463.32,421.4v5.2M465.44,756.0v-8.5M465.44,421.4v8.5M479.42,756.0v-5.2M479.42,421.4v5.2M487.59,756.0v-5.2M487.59,421.4v5.2M493.39,756.0v-5.2M493.39,421.4v5.2M497.89,756.0v-5.2M497.89,421.4v5.2M501.57,756.0v-5.2M501.57,421.4v5.2M504.68,756.0v-5.2M504.68,421.4v5.2M507.37,756.0v-5.2M507.37,421.4v5.2M509.75,756.0v-5.2M509.75,421.4v5.2M511.87,756.0v-8.5M511.87,421.4v8.5" stroke="#000" stroke-width="1.5" fill="none"/>
<text font-family="Liberation Sans, sans-serif"><tspan x="87.33" y="789.30" font-size="25.5">0</tspan><tspan x="101.51" y="775.80" font-size="15">-</tspan><tspan x="106.51" y="775.80" font-size="15">5</tspan></text><path transform="translate(73.15,789.30) scale(0.01245,-0.01245)" d="M763,0H583V1147C540,1106 483,1064 413,1023C343,982 280,951 224,930V1104C325,1151 412,1208 487,1275C562,1342 615,1407 646,1471H763Z"/>
<text font-family="Liberation Sans, sans-serif"><tspan x="133.76" y="789.30" font-size="25.5">0</tspan><tspan x="147.94" y="775.80" font-size="15">-</tspan><tspan x="152.94" y="775.80" font-size="15">4</tspan></text><path transform="translate(119.58,789.30) scale(0.01245,-0.01245)" d="M763,0H583V1147C540,1106 483,1064 413,1023C343,982 280,951 224,930V1104C325,1151 412,1208 487,1275C562,1342 615,1407 646,1471H763Z"/>
<text font-family="Liberation Sans, sans-serif"><tspan x="180.19" y="789.30" font-size="25.5">0</tspan><tspan x="194.37" y="775.80" font-size="15">-</tspan><tspan x="199.37" y="775.80" font-size="15">3</tspan></text><path transform="translate(166.01,789.30) scale(0.01245,-0.01245)" d="M763,0H583V1147C540,1106 483,1064 413,1023C343,982 280,951 224,930V1104C325,1151 412,1208 487,1275C562,1342 615,1407 646,1471H763Z"/>
<text font-family="Liberation Sans, sans-serif"><tspan x="226.62" y="789.30" font-size="25.5">0</tspan><tspan x="240.80" y="775.80" font-size="15">-</tspan><tspan x="245.80" y="775.80" font-size="15">2</tspan></text><path transform="translate(212.44,789.30) scale(0.01245,-0.01245)" d="M763,0H583V1147C540,1106 483,1064 413,1023C343,982 280,951 224,930V1104C325,1151 412,1208 487,1275C562,1342 615,1407 646,1471H763Z"/>
<text font-family="Liberation Sans, sans-serif"><tspan x="273.05" y="789.30" font-size="25.5">0</tspan><tspan x="287.23" y="775.80" font-size="15">-</tspan></text><path transform="translate(258.87,789.30) scale(0.01245,-0.01245)" d="M763,0H583V1147C540,1106 483,1064 413,1023C343,982 280,951 224,930V1104C325,1151 412,1208 487,1275C562,1342 615,1407 646,1471H763Z"/><path transform="translate(292.23,775.80) scale(0.00732,-0.00732)" d="M763,0H583V1147C540,1106 483,1064 413,1023C343,982 280,951 224,930V1104C325,1151 412,1208 487,1275C562,1342 615,1407 646,1471H763Z"/>
<text font-family="Liberation Sans, sans-serif"><tspan x="321.98" y="789.30" font-size="25.5">0</tspan><tspan x="336.16" y="775.80" font-size="15">0</tspan></text><path transform="translate(307.80,789.30) scale(0.01245,-0.01245)" d="M763,0H583V1147C540,1106 483,1064 413,1023C343,982 280,951 224,930V1104C325,1151 412,1208 487,1275C562,1342 615,1407 646,1471H763Z"/>
<text font-family="Liberation Sans, sans-serif"><tspan x="368.41" y="789.30" font-size="25.5">0</tspan></text><path transform="translate(354.23,789.30) scale(0.01245,-0.01245)" d="M763,0H583V1147C540,1106 483,1064 413,1023C343,982 280,951 224,930V1104C325,1151 412,1208 487,1275C562,1342 615,1407 646,1471H763Z"/><path transform="translate(382.59,775.80) scale(0.00732,-0.00732)" d="M763,0H583V1147C540,1106 483,1064 413,1023C343,982 280,951 224,930V1104C325,1151 412,1208 487,1275C562,1342 615,1407 646,1471H763Z"/>
<text font-family="Liberation Sans, sans-serif"><tspan x="414.84" y="789.30" font-size="25.5">0</tspan><tspan x="429.02" y="775.80" font-size="15">2</tspan></text><path transform="translate(400.66,789.30) scale(0.01245,-0.01245)" d="M763,0H583V1147C540,1106 483,1064 413,1023C343,982 280,951 224,930V1104C325,1151 412,1208 487,1275C562,1342 615,1407 646,1471H763Z"/>
<text font-family="Liberation Sans, sans-serif"><tspan x="461.27" y="789.30" font-size="25.5">0</tspan><tspan x="475.45" y="775.80" font-size="15">3</tspan></text><path transform="translate(447.09,789.30) scale(0.01245,-0.01245)" d="M763,0H583V1147C540,1106 483,1064 413,1023C343,982 280,951 224,930V1104C325,1151 412,1208 487,1275C562,1342 615,1407 646,1471H763Z"/>
<text font-family="Liberation Sans, sans-serif"><tspan x="507.70" y="789.30" font-size="25.5">0</tspan><tspan x="521.88" y="775.80" font-size="15">4</tspan></text><path transform="translate(493.52,789.30) scale(0.01245,-0.01245)" d="M763,0H583V1147C540,1106 483,1064 413,1023C343,982 280,951 224,930V1104C325,1151 412,1208 487,1275C562,1342 615,1407 646,1471H763Z"/>
<text font-family="Liberation Sans, sans-serif"><tspan x="60.82" y="755.70" font-size="25.5">0</tspan></text>
<text font-family="Liberation Sans, sans-serif"><tspan x="60.82" y="699.04" font-size="25.5">2</tspan></text>
<text font-family="Liberation Sans, sans-serif"><tspan x="60.82" y="642.38" font-size="25.5">4</tspan></text>
<text font-family="Liberation Sans, sans-serif"><tspan x="60.82" y="585.72" font-size="25.5">6</tspan></text>
<text font-family="Liberation Sans, sans-serif"><tspan x="60.82" y="529.06" font-size="25.5">8</tspan></text>
<text font-family="Liberation Sans, sans-serif"><tspan x="60.82" y="472.40" font-size="25.5">0</tspan></text><path transform="translate(46.64,472.40) scale(0.01245,-0.01245)" d="M763,0H583V1147C540,1106 483,1064 413,1023C343,982 280,951 224,930V1104C325,1151 412,1208 487,1275C562,1342 615,1407 646,1471H763Z"/>
<path d="M84.0,748.30h8.5M84.0,734.13h5.2M84.0,719.97h5.2M84.0,705.80h5.2M84.0,691.64h8.5M84.0,677.47h5.2M84.0,663.31h5.2M84.0,649.14h5.2M84.0,634.98h8.5M84.0,620.81h5.2M84.0,606.65h5.2M84.0,592.48h5.2M84.0,578.32h8.5M84.0,564.15h5.2M84.0,549.99h5.2M84.0,535.82h5.2M84.0,521.66h8.5M84.0,507.50h5.2M84.0,493.33h5.2M84.0,479.16h5.2M84.0,465.00h8.5M84.0,450.83h5.2M84.0,436.67h5.2M84.0,422.50h5.2" stroke="#000" stroke-width="1.5" fill="none"/>
<text font-family="Liberation Sans, sans-serif"><tspan x="529.00" y="753.40" font-size="25.5">0</tspan></text>
<text font-family="Liberation Sans, sans-serif"><tspan x="529.00" y="686.50" font-size="25.5">2</tspan></text>
<text font-family="Liberation Sans, sans-serif"><tspan x="529.00" y="619.60" font-size="25.5">4</tspan></text>
<text font-family="Liberation Sans, sans-serif"><tspan x="529.00" y="552.70" font-size="25.5">6</tspan></text>
<text font-family="Liberation Sans, sans-serif"><tspan x="529.00" y="485.80" font-size="25.5">8</tspan></text>
<path d="M520.0,746.60h-8.5M520.0,729.88h-5.2M520.0,713.15h-5.2M520.0,696.43h-5.2M520.0,679.70h-8.5M520.0,662.98h-5.2M520.0,646.25h-5.2M520.0,629.52h-5.2M520.0,612.80h-8.5M520.0,596.08h-5.2M520.0,579.35h-5.2M520.0,562.62h-5.2M520.0,545.90h-8.5M520.0,529.17h-5.2M520.0,512.45h-5.2M520.0,495.73h-5.2M520.0,479.00h-8.5M520.0,462.27h-5.2M520.0,445.55h-5.2M520.0,428.82h-5.2" stroke="#000" stroke-width="1.5" fill="none"/>
<path d="M616.0,422.1V756.3" stroke="#000" stroke-width="1.6"/>
<text font-family="Liberation Sans, sans-serif"><tspan x="624.50" y="758.20" font-size="25.5">0</tspan></text>
<text font-family="Liberation Sans, sans-serif"></text><path transform="translate(624.50,705.70) scale(0.01245,-0.01245)" d="M763,0H583V1147C540,1106 483,1064 413,1023C343,982 280,951 224,930V1104C325,1151 412,1208 487,1275C562,1342 615,1407 646,1471H763Z"/>
<text font-family="Liberation Sans, sans-serif"><tspan x="624.50" y="653.20" font-size="25.5">2</tspan></text>
<text font-family="Liberation Sans, sans-serif"><tspan x="624.50" y="600.70" font-size="25.5">3</tspan></text>
<text font-family="Liberation Sans, sans-serif"><tspan x="624.50" y="548.20" font-size="25.5">4</tspan></text>
<text font-family="Liberation Sans, sans-serif"><tspan x="624.50" y="495.70" font-size="25.5">5</tspan></text>
<text font-family="Liberation Sans, sans-serif"><tspan x="624.50" y="443.20" font-size="25.5">6</tspan></text>
<path d="M616.0,751.00h-9M616.0,740.50h-5.2M616.0,730.00h-5.2M616.0,719.50h-5.2M616.0,709.00h-5.2M616.0,698.50h-9M616.0,688.00h-5.2M616.0,677.50h-5.2M616.0,667.00h-5.2M616.0,656.50h-5.2M616.0,646.00h-9M616.0,635.50h-5.2M616.0,625.00h-5.2M616.0,614.50h-5.2M616.0,604.00h-5.2M616.0,593.50h-9M616.0,583.00h-5.2M616.0,572.50h-5.2M616.0,562.00h-5.2M616.0,551.50h-5.2M616.0,541.00h-9M616.0,530.50h-5.2M616.0,520.00h-5.2M616.0,509.50h-5.2M616.0,499.00h-5.2M616.0,488.50h-9M616.0,478.00h-5.2M616.0,467.50h-5.2M616.0,457.00h-5.2M616.0,446.50h-5.2M616.0,436.00h-9M616.0,425.50h-5.2" stroke="#000" stroke-width="1.5" fill="none"/>
<text transform="translate(21.0,188.8) rotate(-90) skewX(-6)" font-family="Liberation Serif, serif" font-style="italic" font-size="33">I<tspan font-size="20" dy="12.9" dx="0.5">N</tspan></text>
<text transform="translate(32.8,604.8) rotate(-90) skewX(-12)" font-family="Liberation Serif, serif" font-style="italic" font-size="33">V</text>
<text transform="translate(577,179) rotate(-90) skewX(-6)" font-family="Liberation Serif, serif" font-style="italic" font-size="32.5">I</text>
<text transform="translate(576.1,606.5) rotate(-90) skewX(-6)" font-family="Liberation Serif, serif" font-style="italic" font-size="33">H</text>
<text transform="translate(675.6,207.5) rotate(-90)" font-family="Liberation Serif, serif" font-size="30">1<tspan dx="1.5">0</tspan><tspan font-size="19.5" dy="-16.7">2</tspan><tspan dy="16.7" font-style="italic"> q</tspan></text>
<text transform="translate(676.6,629.5) rotate(-90)" font-family="Liberation Serif, serif" font-size="30">1<tspan dx="1.5">0</tspan><tspan font-size="19.5" dy="-16.7">2</tspan><tspan dy="16.7" font-style="italic"> q</tspan></text>
<g transform="translate(0,0)"><path d="M292.4,807.2C292.3,803.6 293.6,801.6 295.4,801.7C297.6,801.8 298.6,805.5 300.3,816.8" fill="none" stroke="#000" stroke-width="1.8"/><path d="M307.3,801.9L300.1,816.8" fill="none" stroke="#000" stroke-width="2.9"/><path d="M299.6,815.2C300.9,818.5 301.3,823.5 299.9,826.9C299.2,828.1 297.4,827.8 297.5,825.6C297.7,821.6 298.6,818.4 299.6,815.2Z" fill="#000"/></g>
<g transform="translate(-0.4,-445)"><path d="M292.4,807.2C292.3,803.6 293.6,801.6 295.4,801.7C297.6,801.8 298.6,805.5 300.3,816.8" fill="none" stroke="#000" stroke-width="1.8"/><path d="M307.3,801.9L300.1,816.8" fill="none" stroke="#000" stroke-width="2.9"/><path d="M299.6,815.2C300.9,818.5 301.3,823.5 299.9,826.9C299.2,828.1 297.4,827.8 297.5,825.6C297.7,821.6 298.6,818.4 299.6,815.2Z" fill="#000"/></g>
<text x="91" y="43" font-family="Liberation Serif, serif" font-size="43">(a<tspan dx="-1.5">)</tspan></text>
<text x="91.5" y="466.5" font-family="Liberation Serif, serif" font-size="42.5">(b)</text>
<text x="188" y="41" font-family="Liberation Serif, serif" font-size="30" letter-spacing="-1">(<tspan font-style="italic">i</tspan>a)</text>
<text x="163.5" y="628" font-family="Liberation Serif, serif" font-size="30" letter-spacing="-1">(<tspan font-style="italic">i</tspan>b)</text>
<path d="M207.50,51.20L192.74,73.38" stroke="#000" stroke-width="2.4"/>
<path d="M187.20,81.70L190.10,69.22L197.59,74.20Z" fill="#000"/>
<path d="M183.30,637.40L168.25,660.52" stroke="#000" stroke-width="2.4"/>
<path d="M162.80,668.90L165.57,656.39L173.12,661.30Z" fill="#000"/>
<rect x="428.3" y="228.7" width="81.0" height="94.80000000000001" fill="#fff" stroke="#333" stroke-width="1.1"/>
<path d="M434.9,248H483.7" stroke="#222" stroke-width="1"/>
<g fill="#ff0000" stroke="#000" stroke-width="1.1"><rect x="453.50" y="242.00" width="12" height="12"/></g>
<text x="487.5" y="255.30" font-family="Liberation Serif, serif" font-style="italic" font-size="21.5">I<tspan font-size="12.5" dy="8.5">N</tspan></text>
<path d="M434.9,282.1H483.7" stroke="#222" stroke-width="1"/>
<g fill="#ff8000" stroke="#000" stroke-width="1.1"><path d="M449.75,277.10H469.25L459.50,292.10Z"/></g>
<text x="487.5" y="289.40" font-family="Liberation Serif, serif" font-style="italic" font-size="21.5">I</text>
<path d="M434.9,308.4H483.7" stroke="#222" stroke-width="1"/>
<g fill="#0000ff" stroke="#000" stroke-width="1.1"><circle cx="459.50" cy="308.40" r="8"/></g>
<text x="487.5" y="315.70" font-family="Liberation Serif, serif" font-style="italic" font-size="21.5">q</text>
<rect x="407.4" y="634.5" width="100.70000000000005" height="103.10000000000002" fill="#fff" stroke="#333" stroke-width="1.1"/>
<path d="M417.5,657H473.6" stroke="#222" stroke-width="1"/>
<g fill="#00ff00" stroke="#000" stroke-width="1.1"><path d="M435.90,662.15H455.10L445.50,646.65Z"/></g>
<text x="480" y="665.49" font-family="Liberation Serif, serif" font-style="italic" font-size="25">V</text>
<path d="M417.5,687.3H473.6" stroke="#222" stroke-width="1"/>
<g fill="#ffff00" stroke="#000" stroke-width="1.1"><path d="M435.50,687.30L445.50,677.30L455.50,687.30L445.50,697.30Z"/></g>
<text x="480" y="695.79" font-family="Liberation Serif, serif" font-style="italic" font-size="25">H</text>
<path d="M417.5,717.6H473.6" stroke="#222" stroke-width="1"/>
<g fill="#0000ff" stroke="#000" stroke-width="1.1"><circle cx="445.50" cy="717.60" r="8.3"/></g>
<text x="480" y="726.09" font-family="Liberation Serif, serif" font-style="italic" font-size="25">q</text>
</svg></body></html>
